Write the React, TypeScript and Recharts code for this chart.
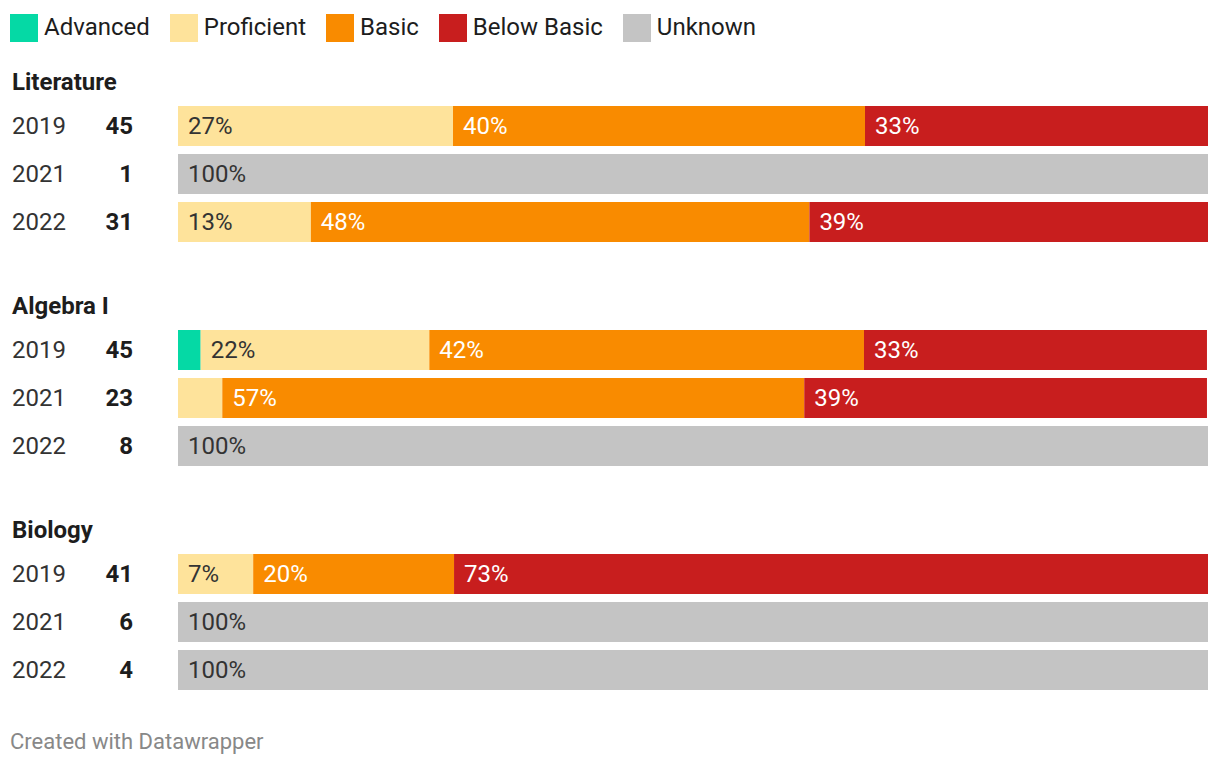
import React from "react";
import { BarChart, Bar, XAxis, YAxis, LabelList } from "recharts";

// subjects & years
const subjects = ["Literature", "Algebra I", "Biology"];
const years = ["2019", "2021", "2022"];
const counts = [
  [45, 1, 31],
  [45, 23, 8],
  [41, 6, 4],
];

// shares per row (3 rows per subject, in order)
const advanced   = [0, 0, 0,     2.2, 0, 0,      0, 0, 0];
const proficient = [26.7, 0, 12.9, 22.2, 4.3, 0, 7.3, 0, 0];
const basic      = [40, 0, 48.4,  42.2, 56.5, 0, 19.5, 0, 0];
const belowBasic = [33.3, 0, 38.7, 33.3, 39.1, 0, 73.2, 0, 0];
const unknown    = [0, 100, 0,    0, 0, 100,     0, 100, 100];

const series = [
  { key: "advanced",   name: "Advanced",    color: "#05d9a5", text: "#fff",    values: advanced },
  { key: "proficient", name: "Proficient",  color: "#fee39b", text: "#333",    values: proficient },
  { key: "basic",      name: "Basic",       color: "#f98b00", text: "#fff",    values: basic },
  { key: "below",      name: "Below Basic", color: "#c81e1e", text: "#fff",    values: belowBasic },
  { key: "unknown",    name: "Unknown",     color: "#c4c4c4", text: "#333",    values: unknown },
];

const FONT = "Roboto, 'Noto Sans', sans-serif";
const FS = 24;
const CHART_W = 1220;
const ROW_H = 48;
const BAR_H = 40;
const GROUP_TOPS = [102, 326, 550];

const makeRows = (g: number) =>
  years.map((year, i) => {
    const row: any = { year, n: counts[g][i] };
    series.forEach(s => { row[s.key] = s.values[g * 3 + i]; });
    return row;
  });

const ValueLabel = (color: string) => (props: any) => {
  const { x, y, height, value } = props;
  if (!value || value < 5) return null;
  return (
    <text
      x={x + 10}
      y={y + height / 2}
      dy="0.32em"
      fill={color}
      fontSize={FS}
      fontFamily={FONT}
    >
      {Math.round(value)}%
    </text>
  );
};

function Group({ g }: { g: number }) {
  const rows = makeRows(g);
  const renderTick = (p: any) => {
    const row = rows.find(r => r.year === p.payload.value);
    return (
      <g>
        <text x={12} y={p.y} dy="0.32em" fontSize={FS} fontFamily={FONT} fill="#333">
          {p.payload.value}
        </text>
        <text x={133} y={p.y} dy="0.32em" textAnchor="end" fontSize={FS} fontWeight={700}
          fontFamily={FONT} fill="#1d1d1d">
          {row?.n}
        </text>
      </g>
    );
  };

  return (
    <>
      <div style={{
        position: "absolute", left: 12, top: GROUP_TOPS[g] - 32, fontSize: FS,
        lineHeight: `${FS}px`, fontWeight: 700, color: "#1d1d1d",
      }}>
        {subjects[g]}
      </div>
      <div style={{ position: "absolute", left: 0, top: GROUP_TOPS[g] }}>
        <BarChart
          width={CHART_W}
          height={ROW_H * 3}
          data={rows}
          layout="vertical"
          barSize={BAR_H}
          margin={{ top: 0, right: 12, bottom: 0, left: 0 }}
        >
          <XAxis type="number" domain={[0, 100]} hide />
          <YAxis
            type="category"
            dataKey="year"
            width={178}
            axisLine={false}
            tickLine={false}
            tick={renderTick}
          />
          {series.map(s => (
            <Bar key={s.key} dataKey={s.key} stackId="a" fill={s.color} isAnimationActive={false}>
              <LabelList dataKey={s.key} content={ValueLabel(s.text)} />
            </Bar>
          ))}
        </BarChart>
      </div>
    </>
  );
}

export default function App() {
  return (
    <div style={{
      position: "absolute", left: 0, top: 0, width: 1220, height: 768,
      background: "#fff", fontFamily: FONT, overflow: "hidden",
    }}>
      <div style={{ position: "absolute", left: 10, top: 14, display: "flex", alignItems: "center" }}>
        {series.map(s => (
          <div key={s.key} style={{ display: "flex", alignItems: "center", marginRight: 20 }}>
            <div style={{ width: 28, height: 28, background: s.color, marginRight: 6 }} />
            <span style={{ fontSize: FS, lineHeight: "26px", marginTop: -2, color: "#1d1d1d" }}>{s.name}</span>
          </div>
        ))}
      </div>
      {subjects.map((_, g) => <Group key={g} g={g} />)}
      <div style={{
        position: "absolute", left: 10, top: 730, fontSize: 22, lineHeight: "24px", color: "#888",
      }}>
        Created with Datawrapper
      </div>
    </div>
  );
}
